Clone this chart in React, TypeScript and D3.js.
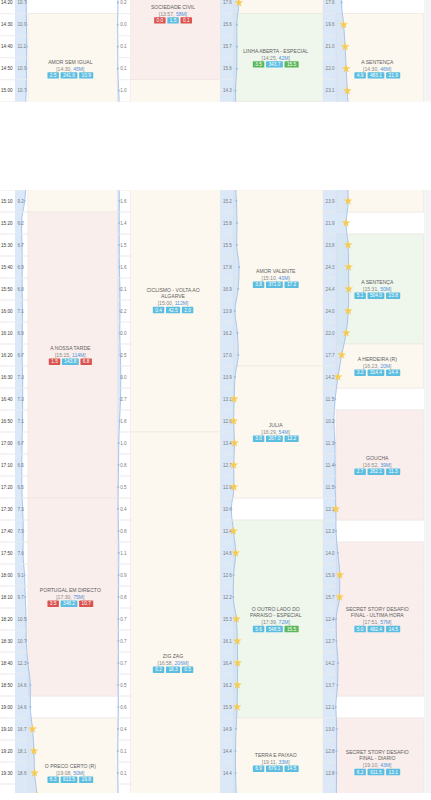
import React from "react";
import * as d3 from "d3";

// ---------- data ----------
const slots = [
  "14:20","14:30","14:40","14:50","15:00","15:10","15:20","15:30","15:40","15:50",
  "16:00","16:10","16:20","16:30","16:40","16:50","17:00","17:10","17:20","17:30",
  "17:40","17:50","18:00","18:10","18:20","18:30","18:40","18:50","19:00","19:10",
  "19:20","19:30","19:40",
];

const rtp1Share = [10.7,10.9,11.2,10.9,10.7, 9.2,6.2,6.7,6.9,6.8, 7.1,6.9,6.7,7.3,7.3, 7.1,6.7,6.5,6.5,7.3, 7.9,7.6,9.1,9.7,10.5, 10.7,12.3,14.6,14.6,16.7, 18.1,18.6,20.7];
const rtp2Share = [0.2,0.0,0.1,0.1,1.0, 1.6,1.4,1.5,1.6,2.1, 2.2,2.0,2.5,3.0,2.7, 1.8,1.0,0.8,0.5,0.4, 0.8,1.1,0.9,0.8,0.7, 0.7,0.7,0.5,0.6,0.4, 0.1,0.1,0.4];
const sicShare = [17.6,15.6,15.7,15.6,14.3, 15.2,15.8,15.5,17.8,16.9, 13.9,16.2,17.0,13.9,13.1, 12.6,13.4,12.7,12.9,10.4, 12.4,14.6,12.6,12.2,15.3, 16.1,16.4,16.2,15.9,14.9, 14.4,14.4,15.1];
const tviShare = [17.6,19.6,21.0,22.0,23.1, 23.9,21.9,23.8,24.3,24.4, 24.0,22.0,17.7,14.2,11.5, 10.2,11.3,11.4,11.5,12.1, 12.3,14.0,15.9,15.7,12.4, 12.7,14.2,13.7,12.1,13.0, 12.8,12.8,12.6];

type Badge = [string, "b" | "r" | "g"];
type Prog = { name: string[]; start: string; dur: string; from: string; to: string; tone: "o" | "p" | "g"; badges: Badge[] };

const rtp1Programs: Prog[] = [
  { name: ["AMOR SEM IGUAL"], start: "14:30", dur: "45M", from: "14:30", to: "15:10", tone: "o", badges: [["2.5","b"],["241.6","b"],["10.9","b"]] },
  { name: ["A NOSSA TARDE"], start: "15:15", dur: "114M", from: "15:20", to: "17:20", tone: "p", badges: [["1.5","r"],["143.8","b"],["6.8","r"]] },
  { name: ["PORTUGAL EM DIRECTO"], start: "17:30", dur: "75M", from: "17:30", to: "18:50", tone: "p", badges: [["3.5","r"],["348.2","b"],["10.7","r"]] },
  { name: ["O PRECO CERTO (R)"], start: "19:08", dur: "50M", from: "19:10", to: "19:50", tone: "o", badges: [["6.3","b"],["613.5","b"],["19.8","b"]] },
];
const rtp2Programs: Prog[] = [
  { name: ["SOCIEDADE CIVIL"], start: "13:57", dur: "58M", from: "14:00", to: "14:50", tone: "p", badges: [["0.0","r"],["1.5","b"],["0.1","r"]] },
  { name: ["CICLISMO - VOLTA AO", "ALGARVE"], start: "15:00", dur: "112M", from: "15:00", to: "16:50", tone: "o", badges: [["0.4","b"],["42.5","b"],["2.0","b"]] },
  { name: ["ZIG ZAG"], start: "16:58", dur: "206M", from: "17:00", to: "20:20", tone: "o", badges: [["0.2","b"],["18.3","b"],["0.5","b"]] },
];
const sicPrograms: Prog[] = [
  { name: [], start: "", dur: "", from: "13:50", to: "14:20", tone: "o", badges: [] },
  { name: ["LINHA ABERTA - ESPECIAL"], start: "14:25", dur: "42M", from: "14:30", to: "15:00", tone: "g", badges: [["3.5","g"],["343.7","b"],["15.5","g"]] },
  { name: ["AMOR VALENTE"], start: "15:10", dur: "40M", from: "15:10", to: "16:20", tone: "o", badges: [["3.8","b"],["371.0","b"],["17.2","b"]] },
  { name: ["JULIA"], start: "16:29", dur: "54M", from: "16:30", to: "17:20", tone: "o", badges: [["3.0","b"],["267.0","b"],["13.2","b"]] },
  { name: ["O OUTRO LADO DO", "PARAISO - ESPECIAL"], start: "17:39", dur: "72M", from: "17:40", to: "19:00", tone: "g", badges: [["5.6","b"],["548.5","b"],["15.5","g"]] },
  { name: ["TERRA E PAIXAO"], start: "19:11", dur: "33M", from: "19:10", to: "19:40", tone: "o", badges: [["6.9","b"],["679.1","b"],["14.5","b"]] },
];
const tviPrograms: Prog[] = [
  { name: ["A SENTENÇA"], start: "14:30", dur: "46M", from: "14:30", to: "15:10", tone: "o", badges: [["4.9","b"],["483.1","b"],["21.9","b"]] },
  { name: ["A SENTENÇA"], start: "15:31", dur: "50M", from: "15:30", to: "16:10", tone: "g", badges: [["5.1","b"],["504.0","b"],["23.8","b"]] },
  { name: ["A HERDEIRA (R)"], start: "16:23", dur: "20M", from: "16:20", to: "16:30", tone: "o", badges: [["3.2","b"],["314.4","b"],["14.4","b"]] },
  { name: ["GOUCHA"], start: "16:52", dur: "39M", from: "16:50", to: "17:30", tone: "p", badges: [["2.7","b"],["262.1","b"],["11.3","b"]] },
  { name: ["SECRET STORY DESAFIO", "FINAL - ULTIMA HORA"], start: "17:51", dur: "57M", from: "17:50", to: "18:50", tone: "p", badges: [["5.0","b"],["492.4","b"],["14.5","b"]] },
  { name: ["SECRET STORY DESAFIO", "FINAL - DIARIO"], start: "19:10", dur: "43M", from: "19:10", to: "19:40", tone: "p", badges: [["6.2","b"],["611.5","b"],["13.1","b"]] },
];

// ---------- styling ----------
const FONT = "'Liberation Sans', Arial, Helvetica, sans-serif";
const TONE: Record<string, string> = { o: "#fdf8ef", p: "#faeeec", g: "#eff6ec" };
const BADGE: Record<string, string> = { b: "#5bbde0", r: "#d9534f", g: "#5cb85c" };
const ROW = 22;

const toMin = (t: string) => { const [h, m] = t.split(":").map(Number); return h * 60 + m; };
const slotIdx = (t: string) => (toMin(t) - toMin(slots[0])) / 10;
const textW = (s: string, fs: number) => {
  let w = 0;
  for (const c of s) w += c === "." ? 0.278 : 0.556;
  return w * fs;
};

export default function App() {
  const W = 431, H = 800;
  const shares = [rtp1Share, rtp2Share, sicShare, tviShare];
  const programs = [rtp1Programs, rtp2Programs, sicPrograms, tviPrograms];
  const n = slots.length;

  const chX = d3.scaleLinear().domain([0, 4]).range([15, 15 + 4 * 102.7]);
  const shareX = d3.scaleLinear().domain([0, 30]).range([0, 31.5]);
  const blockL = (c: number) => chX(c) + 13;
  const blockR = (c: number) => (c < 3 ? chX(c + 1) : 423.5);

  const leaders = slots.map((_, i) => {
    let best = 0;
    shares.forEach((s, c) => { if (s[i] > shares[best][i]) best = c; });
    return best;
  });

  const panels = [
    { id: "top", y0: -8.3, c0: 0, c1: 101.7 },
    { id: "bot", y0: 80, c0: 190, c1: 793 },
  ];

  const starPath = d3.symbol().type(d3.symbolStar).size(24)() as string;

  return (
    <svg width={W} height={H} style={{ position: "absolute", left: 0, top: 0, background: "#fff" }} fontFamily={FONT}>
      <defs>
        {panels.map((p) => (
          <clipPath id={`clip-${p.id}`} key={p.id}>
            <rect x={0} y={p.c0} width={W} height={p.c1 - p.c0} />
          </clipPath>
        ))}
      </defs>
      {panels.map((p) => {
        const y = d3.scaleLinear().domain([0, n]).range([p.y0, p.y0 + n * ROW]);
        const rowVisible = (i: number) => {
          const cy = y(i + 0.5);
          return cy > p.c0 - 6 && cy < p.c1 + 6;
        };
        return (
          <g key={p.id} clipPath={`url(#clip-${p.id})`}>
            <rect x={0} y={p.c0} width={W} height={p.c1 - p.c0} fill="#fff" />
            <rect x={424} y={p.c0} width={7} height={p.c1 - p.c0} fill="#f4f4f6" />
            {/* faint row lines under everything */}
            {d3.range(n + 1).map((i) => (
              <line key={`gl${i}`} x1={0} x2={424} y1={y(i)} y2={y(i)} stroke="#efefef" strokeWidth={0.8} />
            ))}
            {/* program blocks */}
            {programs.map((list, c) =>
              list.map((pr, j) => {
                const a = slotIdx(pr.from), b = slotIdx(pr.to) + 1;
                return (
                  <rect key={`b${c}-${j}`} x={blockL(c)} y={y(a)} width={blockR(c) - blockL(c)} height={y(b) - y(a)}
                    fill={TONE[pr.tone]} stroke="#ebe5df" strokeWidth={0.6} />
                );
              })
            )}
            {/* share areas */}
            {shares.map((s, c) => {
              const pts: [number, number][] = [[0, s[0]], ...s.map((v, i) => [i + 0.5, v] as [number, number]), [n, s[n - 1]]];
              const area = d3.area<[number, number]>()
                .y((d) => y(d[0]))
                .x0(chX(c))
                .x1((d) => chX(c) + shareX(d[1]))
                .curve(d3.curveMonotoneY);
              const line = d3.line<[number, number]>()
                .y((d) => y(d[0]))
                .x((d) => chX(c) + shareX(d[1]))
                .curve(d3.curveMonotoneY);
              return (
                <g key={`a${c}`}>
                  <path d={area(pts) as string} fill="#c9dcf4" fillOpacity={0.66} />
                  <path d={line(pts) as string} fill="none" stroke="#a9c6ec" strokeWidth={1} />
                </g>
              );
            })}
            {/* row lines over the value columns */}
            {d3.range(n + 1).map((i) => (
              <g key={`cl${i}`}>
                <line x1={0} x2={blockL(0)} y1={y(i)} y2={y(i)} stroke="#ededed" strokeWidth={0.8} />
                {[1, 2, 3].map((c) => (
                  <line key={c} x1={chX(c)} x2={blockL(c)} y1={y(i)} y2={y(i)} stroke="#ededed" strokeWidth={0.8} />
                ))}
              </g>
            ))}
            {/* time labels */}
            {slots.map((t, i) => rowVisible(i) && (
              <text key={`t${i}`} x={1} y={y(i + 0.5) + 1.6} fontSize={4.6} fill="#3a3a3a">{t}</text>
            ))}
            {/* values, dots & stars */}
            {shares.map((s, c) =>
              s.map((v, i) => {
                const cx = chX(c) + shareX(v);
                const cy = y(i + 0.5);
                return (
                  <g key={`v${c}-${i}`}>
                    {rowVisible(i) && (
                      <text x={chX(c) + 2.5} y={cy + 1.6} fontSize={4.6} fill="#7a7a7a">{v.toFixed(1)}</text>
                    )}
                    {leaders[i] === c ? (
                      <path d={starPath} transform={`translate(${cx},${cy})`} fill="#f7cb52" />
                    ) : (
                      <circle cx={cx} cy={cy} r={1.1} fill="#9fbfe8" />
                    )}
                  </g>
                );
              })
            )}
            {/* program labels */}
            {programs.map((list, c) =>
              list.filter((pr) => pr.name.length > 0).map((pr, j) => {
                const a = slotIdx(pr.from), b = slotIdx(pr.to) + 1;
                const cy = (y(a) + y(b)) / 2;
                if (cy < p.c0 - 8 || cy > p.c1 + 8) return null;
                const cx = (blockL(c) + blockR(c)) / 2 - 2.5;
                const items = pr.name.length + 2;
                const lh = 6.7;
                const first = cy - ((items - 1) / 2) * lh;
                const fs = 4.8, pad = 2.4, gap = 1.7;
                const widths = pr.badges.map((bd) => textW(bd[0], fs) + 2 * pad);
                const total = d3.sum(widths) + gap * (widths.length - 1);
                let bx = cx - total / 2;
                const by = first + (items - 1) * lh;
                return (
                  <g key={`l${c}-${j}`}>
                    {pr.name.map((ln, k) => (
                      <text key={k} x={cx} y={first + k * lh + 1.8} fontSize={5.1} fill="#606060" textAnchor="middle">{ln}</text>
                    ))}
                    <text x={cx} y={first + pr.name.length * lh + 1.8} fontSize={5.1} textAnchor="middle">
                      <tspan fill="#888">[{pr.start}, </tspan>
                      <tspan fill="#4d92db">{pr.dur}</tspan>
                      <tspan fill="#888">]</tspan>
                    </text>
                    {pr.badges.map((bd, k) => {
                      const x0 = bx;
                      bx += widths[k] + gap;
                      return (
                        <g key={k}>
                          <rect x={x0} y={by - 3.2} width={widths[k]} height={6.4} rx={0.6} fill={BADGE[bd[1]]} />
                          <text x={x0 + widths[k] / 2} y={by + 1.7} fontSize={fs} fill="#fff" textAnchor="middle">{bd[0]}</text>
                        </g>
                      );
                    })}
                  </g>
                );
              })
            )}
          </g>
        );
      })}
    </svg>
  );
}
